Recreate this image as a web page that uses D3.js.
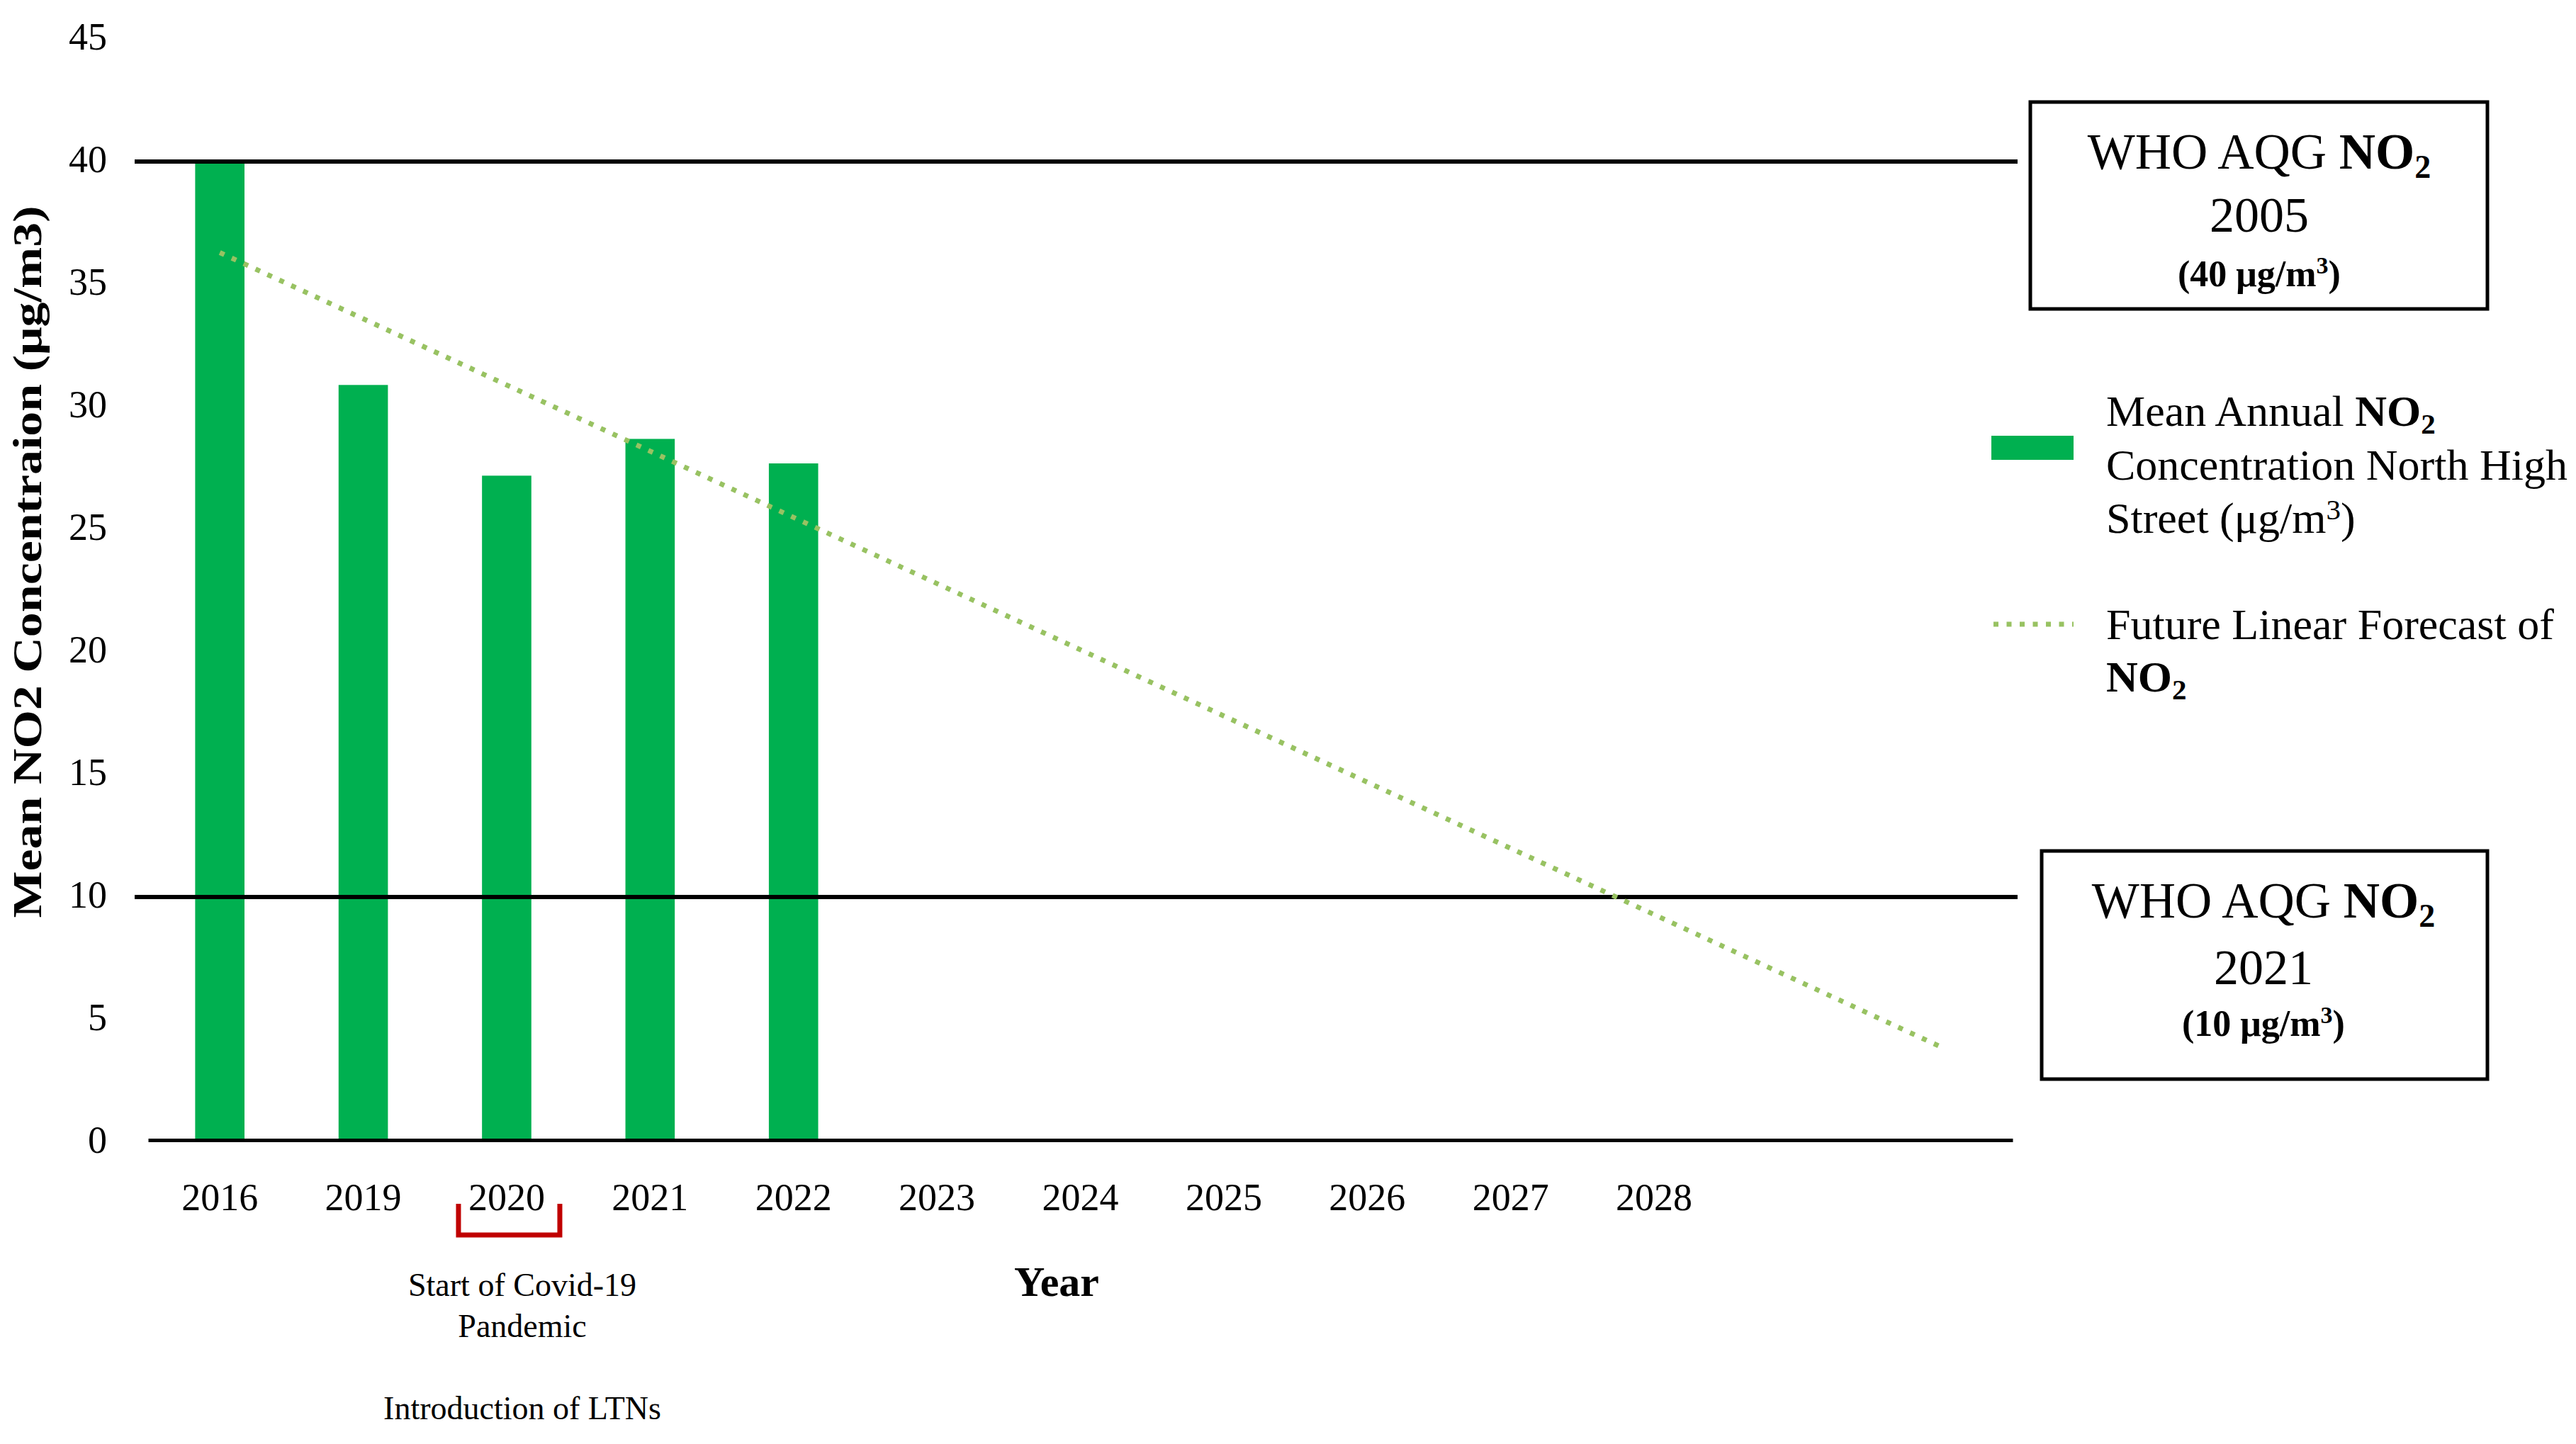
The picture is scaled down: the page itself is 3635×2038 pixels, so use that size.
<!DOCTYPE html>
<html>
<head>
<meta charset="utf-8">
<script src="https://cdn.jsdelivr.net/npm/d3@7"></script>
<style>
  html, body { margin: 0; padding: 0; background: #ffffff; }
  svg { display: block; }
  text { font-family: "Liberation Serif", "Times New Roman", serif; fill: #000; }
</style>
</head>
<body>
<script>
// ---------------- data ----------------
const categories = ["2016", "2019", "2020", "2021", "2022", "2023", "2024", "2025", "2026", "2027", "2028", "2029", "2030"];
const xTickLabels = ["2016", "2019", "2020", "2021", "2022", "2023", "2024", "2025", "2026", "2027", "2028", "", ""];
const barYears = ["2016", "2019", "2020", "2021", "2022"];
const barValues = [40, 30.8, 27.1, 28.6, 27.6];
const forecastYears = ["2016", "2030"];
const forecastValues = [36.2, 3.8];
const yTicks = [0, 5, 10, 15, 20, 25, 30, 35, 40, 45];
const guideValues = [40, 10];
const guideYears = ["2005", "2021"];

// ---------------- layout ----------------
const W = 3635, H = 2038;
const svg = d3.select("body").append("svg").attr("width", W).attr("height", H);
svg.append("rect").attr("width", W).attr("height", H).attr("fill", "#fff");

const x = d3.scaleBand().domain(categories).range([209, 2840]).paddingInner(0.656).paddingOuter(0.328);
const y = d3.scaleLinear().domain([0, 45]).range([1609, 52]);
const cx = c => x(c) + x.bandwidth() / 2;
const dotColor = "#98C262";

// bars
svg.append("g").selectAll("rect")
  .data(barYears.map((c, i) => ({ c, v: barValues[i] })))
  .join("rect")
  .attr("x", d => x(d.c))
  .attr("width", x.bandwidth())
  .attr("y", d => y(d.v))
  .attr("height", d => y(0) - y(d.v))
  .attr("fill", "#00B050");

// guideline horizontal lines
svg.append("g").selectAll("line")
  .data(guideValues)
  .join("line")
  .attr("x1", 190).attr("x2", 2847)
  .attr("y1", d => y(d) + 3).attr("y2", d => y(d) + 3)
  .attr("stroke", "#000").attr("stroke-width", 6);

// forecast line
const fData = forecastYears.map((c, i) => ({ c, v: forecastValues[i] }));
svg.append("path")
  .datum(fData)
  .attr("d", d3.line().x(d => cx(d.c)).y(d => y(d.v)))
  .attr("fill", "none")
  .attr("stroke", dotColor)
  .attr("stroke-width", 7)
  .attr("stroke-dasharray", "7 11.5");

// y axis (labels only)
const yAxis = svg.append("g").attr("transform", "translate(209,0)")
  .call(d3.axisLeft(y).tickValues(yTicks).tickSize(0).tickPadding(58));
yAxis.select(".domain").remove();
yAxis.selectAll("text").attr("font-size", 54).attr("font-family", "Liberation Serif");

// x axis
const xAxis = svg.append("g").attr("transform", `translate(0,${y(0)})`)
  .call(d3.axisBottom(x).tickSize(0).tickSizeOuter(0).tickPadding(61)
    .tickFormat((d, i) => xTickLabels[i]));
xAxis.select(".domain").attr("stroke", "#000").attr("stroke-width", 5);
xAxis.selectAll("text").attr("font-size", 54).attr("font-family", "Liberation Serif");

// y title
svg.append("text")
  .attr("transform", "translate(58,793) rotate(-90)")
  .attr("text-anchor", "middle")
  .attr("font-size", 58)
  .attr("font-weight", "bold")
  .attr("textLength", 1005)
  .attr("lengthAdjust", "spacingAndGlyphs")
  .text("Mean NO2 Concentraion (μg/m3)");

// x title
svg.append("text")
  .attr("x", 1491).attr("y", 1829)
  .attr("text-anchor", "middle")
  .attr("font-size", 60).attr("font-weight", "bold")
  .text("Year");

// covid bracket
const bc = cx("2020") + 3;
svg.append("path")
  .attr("d", `M${bc - 71},1699 V1743 H${bc + 72} V1699`)
  .attr("fill", "none").attr("stroke", "#C00000").attr("stroke-width", 7);

const ann = svg.append("g").attr("text-anchor", "middle").attr("font-size", 46);
ann.append("text").attr("x", 737).attr("y", 1829).text("Start of Covid-19");
ann.append("text").attr("x", 737).attr("y", 1887).text("Pandemic");
ann.append("text").attr("x", 737).attr("y", 2003).text("Introduction of LTNs");

// guideline boxes
const boxes = [
  { x: 2865, y: 144, w: 645, h: 292, tx: 3188, ty: [238, 327, 404], val: "40" },
  { x: 2881, y: 1201, w: 629, h: 322, tx: 3194, ty: [1295, 1389, 1462], val: "10" }
];
boxes.forEach((b, i) => {
  const g = svg.append("g");
  g.append("rect").attr("x", b.x).attr("y", b.y).attr("width", b.w).attr("height", b.h)
    .attr("fill", "#fff").attr("stroke", "#000").attr("stroke-width", 5);
  const t1 = g.append("text").attr("x", b.tx).attr("y", b.ty[0]).attr("text-anchor", "middle").attr("font-size", 71);
  t1.append("tspan").text("WHO AQG ");
  t1.append("tspan").attr("font-weight", "bold").text("NO");
  t1.append("tspan").attr("font-weight", "bold").attr("font-size", 46).attr("dy", 13).text("2");
  g.append("text").attr("x", b.tx).attr("y", b.ty[1]).attr("text-anchor", "middle").attr("font-size", 70).text(guideYears[i]);
  const t3 = g.append("text").attr("x", b.tx).attr("y", b.ty[2]).attr("text-anchor", "middle")
    .attr("font-size", 52).attr("font-weight", "bold");
  t3.append("tspan").text(`(${b.val} μg/m`);
  t3.append("tspan").attr("font-size", 34).attr("dy", -18).text("3");
  t3.append("tspan").attr("dy", 18).text(")");
});

// legend
const lg = svg.append("g").attr("font-size", 62);
lg.append("rect").attr("x", 2810).attr("y", 615).attr("width", 116).attr("height", 34).attr("fill", "#00B050");
const l1 = lg.append("text").attr("x", 2972).attr("y", 601);
l1.append("tspan").text("Mean Annual ");
l1.append("tspan").attr("font-weight", "bold").text("NO");
l1.append("tspan").attr("font-weight", "bold").attr("font-size", 41).attr("dy", 11).text("2");
lg.append("text").attr("x", 2972).attr("y", 677).text("Concentration North High");
const l3 = lg.append("text").attr("x", 2972).attr("y", 752);
l3.append("tspan").text("Street (μg/m");
l3.append("tspan").attr("font-size", 41).attr("dy", -19).text("3");
l3.append("tspan").attr("dy", 19).text(")");
lg.append("line").attr("x1", 2813).attr("x2", 2926).attr("y1", 881).attr("y2", 881)
  .attr("stroke", dotColor).attr("stroke-width", 7).attr("stroke-dasharray", "7 11.5");
lg.append("text").attr("x", 2972).attr("y", 902).text("Future Linear Forecast of");
const l5 = lg.append("text").attr("x", 2972).attr("y", 976).attr("font-weight", "bold");
l5.append("tspan").text("NO");
l5.append("tspan").attr("font-size", 41).attr("dy", 11).text("2");
</script>
</body>
</html>
